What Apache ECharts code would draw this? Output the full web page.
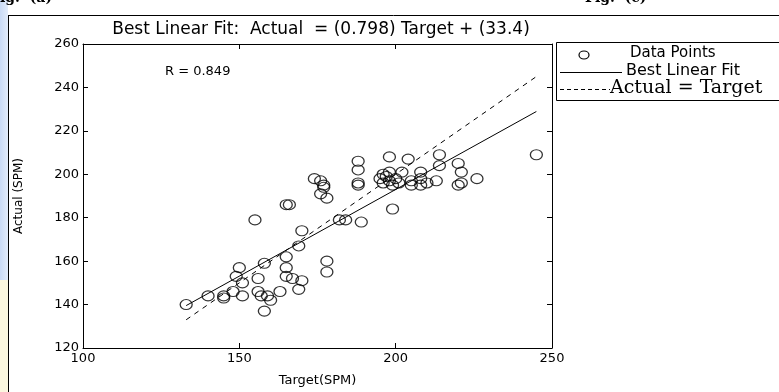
<!DOCTYPE html>
<html>
<head>
<meta charset="utf-8">
<script src="https://cdn.jsdelivr.net/npm/echarts@6/dist/echarts.min.js"></script>
<style>
  html, body { margin: 0; padding: 0; background: #fff; }
  #chart { width: 779px; height: 392px; }
</style>
</head>
<body>
<div id="chart"></div>
<script>
// data (Target, Actual)
var dataPoints = [
  [133,140],[140,144],[145,143],[145,144],[148,146],[149,153],[151,150],[150,157],
  [151,144],[155,179],[156,152],[156,146],[157,144],[158,159],[158,137],[159,144],
  [160,142],[163,146],[165,162],[165,157],[165,153],[167,152],[165,186],[166,186],
  [170,151],[169,147],[169,167],[170,174],[174,198],[177,195],[176,191],[178,189],
  [176,197],[177,194],[178,160],[178,155],[182,179],[184,179],[188,206],[188,202],
  [188,196],[188,195],[189,178],[198,208],[204,207],[196,200],[198,201],[195,198],
  [196,196],[197,199],[198,197],[199,195],[200,198],[201,196],[199,184],[202,201],
  [205,197],[205,195],[208,201],[208,198],[210,196],[213,197],[208,195],[214,209],
  [214,204],[220,205],[221,201],[221,196],[220,195],[226,198],[245,209]
];
var fitSlope = 0.798;
var fitIntercept = 33.4;
var fitRange = [133, 245];
var xTicks = [100, 150, 200, 250];
var yTicks = [120, 140, 160, 180, 200, 220, 240, 260];

var fitLine = fitRange.map(function (x) { return [x, fitSlope * x + fitIntercept]; });
var idLine = fitRange.map(function (x) { return [x, x]; });

var myChart = echarts.init(document.getElementById('chart'));
var font = 'DejaVu Sans, sans-serif';

myChart.setOption({
  animation: false,
  backgroundColor: '#fff',
  grid: { left: 83, right: 227, top: 44, bottom: 43 },
  xAxis: [
    {
      type: 'value', min: xTicks[0], max: xTicks[xTicks.length - 1], interval: 50,
      name: 'Target(SPM)', nameLocation: 'middle', nameGap: 26,
      nameTextStyle: { color: '#000', fontSize: 13, fontFamily: font },
      axisLine: { lineStyle: { color: '#000', width: 1 } },
      axisTick: { inside: true, length: 5, lineStyle: { color: '#000' } },
      axisLabel: { color: '#000', fontSize: 13, fontFamily: font, margin: 4 },
      splitLine: { show: false }
    },
    {
      type: 'value', position: 'top', min: xTicks[0], max: xTicks[xTicks.length - 1], interval: 50,
      axisLine: { show: true, lineStyle: { color: '#000', width: 1 } },
      axisTick: { inside: true, length: 5, lineStyle: { color: '#000' } },
      axisLabel: { show: false },
      splitLine: { show: false }
    }
  ],
  yAxis: [
    {
      type: 'value', min: yTicks[0], max: yTicks[yTicks.length - 1], interval: 20,
      name: 'Actual (SPM)', nameLocation: 'middle', nameGap: 58, nameRotate: 90,
      nameTextStyle: { color: '#000', fontSize: 12, fontFamily: font },
      axisLine: { show: true, lineStyle: { color: '#000', width: 1 } },
      axisTick: { inside: true, length: 5, lineStyle: { color: '#000' } },
      axisLabel: { color: '#000', fontSize: 13, fontFamily: font, margin: 4 },
      splitLine: { show: false }
    },
    {
      type: 'value', position: 'right', min: yTicks[0], max: yTicks[yTicks.length - 1], interval: 20,
      axisLine: { show: true, lineStyle: { color: '#000', width: 1 } },
      axisTick: { inside: true, length: 5, lineStyle: { color: '#000' } },
      axisLabel: { show: false },
      splitLine: { show: false }
    }
  ],
  title: {
    text: 'Best Linear Fit:  Actual  = (0.798) Target + (33.4)',
    left: 316, top: 16, textAlign: 'center',
    textStyle: { color: '#000', fontSize: 17, fontWeight: 'normal', fontFamily: font }
  },
  series: [
    {
      name: 'Data Points', type: 'scatter', data: dataPoints,
      symbol: 'circle', symbolSize: [12, 10],
      itemStyle: { color: 'rgba(0,0,0,0)', borderColor: '#000', borderWidth: 1.2 },
      z: 3
    },
    {
      name: 'Best Linear Fit', type: 'line', data: fitLine, symbol: 'none',
      lineStyle: { color: '#000', width: 1 }
    },
    {
      name: 'Actual = Target', type: 'line', data: idLine, symbol: 'none',
      lineStyle: { color: '#000', width: 1, type: [5, 5] }
    }
  ],
  graphic: [
    // left strip and frame
    { type: 'rect', left: 0, top: 0, shape: { width: 8, height: 280 },
      style: { fill: new echarts.graphic.LinearGradient(0, 0, 1, 0, [
        { offset: 0, color: '#c9daf5' }, { offset: 1, color: '#e3ecfa' }]) } },
    { type: 'rect', left: 0, top: 280, shape: { width: 8, height: 112 },
      style: { fill: '#fbf7df' } },
    { type: 'line', shape: { x1: 8.5, y1: 15, x2: 8.5, y2: 392 }, style: { stroke: '#000', lineWidth: 1 } },
    { type: 'line', shape: { x1: 8, y1: 15.5, x2: 779, y2: 15.5 }, style: { stroke: '#000', lineWidth: 1 } },
    // cut-off captions at the very top
    { type: 'text', left: 0, top: -9, style: { text: 'ig.  (a)', fontSize: 14, fontWeight: 'bold', fontFamily: 'DejaVu Serif, serif', fill: '#000' } },
    { type: 'text', left: 585, top: -9, style: { text: 'Fig.  (c)', fontSize: 14, fontWeight: 'bold', fontFamily: 'DejaVu Serif, serif', fill: '#000' } },
    // R value
    { type: 'text', left: 165, top: 65, style: { text: 'R = 0.849', fontSize: 13, fontFamily: font, fill: '#000' } },
    // legend box
    { type: 'rect', shape: { x: 556.5, y: 42.5, width: 240, height: 58 },
      style: { fill: '#fff', stroke: '#000', lineWidth: 1 } },
    { type: 'ellipse', shape: { cx: 584, cy: 55, rx: 5, ry: 4 },
      style: { fill: 'none', stroke: '#000', lineWidth: 1.2 } },
    { type: 'text', left: 630, top: 46, style: { text: 'Data Points', fontSize: 15, fontFamily: font, fill: '#000' } },
    { type: 'line', shape: { x1: 560, y1: 72.5, x2: 622, y2: 72.5 }, style: { stroke: '#000', lineWidth: 1 } },
    { type: 'text', left: 626, top: 63, style: { text: 'Best Linear Fit', fontSize: 16, fontFamily: font, fill: '#000' } },
    { type: 'line', shape: { x1: 560, y1: 89.5, x2: 610, y2: 89.5 }, style: { stroke: '#000', lineWidth: 1, lineDash: [4, 3] } },
    { type: 'text', left: 610, top: 79, style: { text: 'Actual = Target', fontSize: 19, fontFamily: 'DejaVu Serif, serif', fill: '#000' } }
  ]
});
</script>
</body>
</html>
